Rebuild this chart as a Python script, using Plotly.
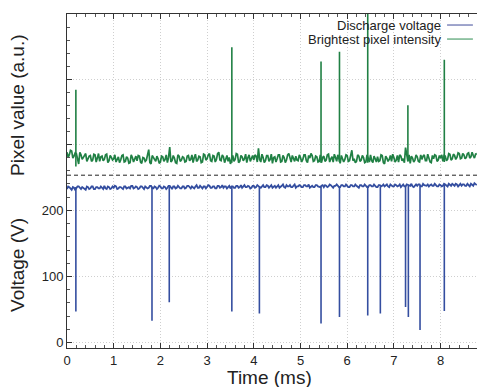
import plotly.graph_objects as go

# ---------------- data ----------------
t_step = 0.05  # ms between samples in each baseline list; the *_b lists sit half a step later
green_a = [
    0.88, 0.84, 0.90, 0.82, 0.86, 0.70, 0.84, 0.80, 0.86, 0.78,
    0.83, 0.76, 0.84, 0.79, 0.74, 0.82, 0.77, 0.85, 0.75, 0.80,
    0.78, 0.73, 0.81, 0.76, 0.84, 0.74, 0.79, 0.72, 0.80, 0.77,
    0.75, 0.82, 0.71, 0.79, 0.76, 0.92, 0.70, 0.80, 0.74, 0.78,
    0.73, 0.81, 0.77, 0.72, 0.96, 0.75, 0.79, 0.71, 0.82, 0.76,
    0.80, 0.74, 0.83, 0.77, 0.72, 0.85, 0.76, 0.81, 0.73, 0.84,
    0.78, 0.86, 0.74, 0.82, 0.77, 0.88, 0.75, 0.81, 0.79, 0.74,
    0.70, 0.83, 0.77, 0.85, 0.74, 0.81, 0.78, 0.72, 0.84, 0.79,
    0.76, 0.82, 0.94, 0.73, 0.80, 0.75, 0.83, 0.77, 0.71, 0.81,
    0.78, 0.84, 0.74, 0.80, 0.76, 0.86, 0.73, 0.79, 0.82, 0.75,
    0.80, 0.77, 0.84, 0.72, 0.79, 0.83, 0.75, 0.81, 0.74, 0.72,
    0.82, 0.76, 0.85, 0.78, 0.73, 0.80, 0.84, 0.71, 0.79, 0.77,
    0.83, 0.75, 0.91, 0.78, 0.74, 0.82, 0.76, 0.80, 0.73, 0.79,
    0.84, 0.72, 0.78, 0.81, 0.75, 0.83, 0.70, 0.79, 0.77, 0.74,
    0.80, 0.76, 0.73, 0.82, 0.78, 0.95, 0.74, 0.71, 0.79, 0.76,
    0.81, 0.73, 0.77, 0.84, 0.75, 0.80, 0.72, 0.78, 0.83, 0.76,
    0.79, 0.74, 0.82, 0.77, 0.85, 0.78, 0.83, 0.80, 0.86, 0.79,
    0.84, 0.80, 0.87, 0.81, 0.83, 0.85,
]
green_b = [
    0.80, 0.91, 0.79, 0.87, 0.75, 0.88, 0.77, 0.83, 0.74, 0.82,
    0.74, 0.85, 0.73, 0.86, 0.81, 0.75, 0.84, 0.72, 0.83, 0.76,
    0.84, 0.79, 0.72, 0.83, 0.73, 0.81, 0.71, 0.84, 0.73, 0.82,
    0.83, 0.73, 0.80, 0.74, 0.84, 0.72, 0.83, 0.75, 0.82, 0.71,
    0.82, 0.74, 0.84, 0.80, 0.73, 0.83, 0.72, 0.84, 0.74, 0.81,
    0.73, 0.82, 0.75, 0.84, 0.80, 0.74, 0.82, 0.72, 0.85, 0.76,
    0.84, 0.75, 0.83, 0.73, 0.86, 0.76, 0.84, 0.72, 0.83, 0.80,
    0.79, 0.74, 0.86, 0.72, 0.83, 0.75, 0.85, 0.80, 0.74, 0.83,
    0.84, 0.73, 0.77, 0.85, 0.72, 0.83, 0.74, 0.85, 0.80, 0.73,
    0.84, 0.73, 0.83, 0.72, 0.84, 0.77, 0.83, 0.74, 0.76, 0.84,
    0.73, 0.84, 0.75, 0.83, 0.86, 0.74, 0.82, 0.73, 0.84, 0.80,
    0.74, 0.84, 0.73, 0.81, 0.85, 0.74, 0.76, 0.83, 0.73, 0.84,
    0.74, 0.84, 0.75, 0.72, 0.84, 0.74, 0.83, 0.72, 0.84, 0.73,
    0.75, 0.82, 0.73, 0.74, 0.84, 0.72, 0.82, 0.74, 0.83, 0.85,
    0.73, 0.83, 0.84, 0.75, 0.72, 0.80, 0.84, 0.82, 0.73, 0.84,
    0.74, 0.84, 0.82, 0.75, 0.85, 0.73, 0.83, 0.84, 0.74, 0.83,
    0.84, 0.83, 0.75, 0.86, 0.76, 0.85, 0.77, 0.87, 0.78, 0.86,
    0.78, 0.86, 0.79, 0.88, 0.79, 0.86,
]
voltage_a = [
    232, 235, 231, 234, 233, 236, 232, 234, 231, 235,
    233, 236, 232, 235, 233, 234, 237, 232, 235, 233,
    234, 236, 233, 235, 232, 236, 234, 233, 237, 234,
    235, 233, 236, 232, 235, 234, 237, 233, 235, 234,
    236, 233, 235, 234, 237, 232, 236, 234, 235, 233,
    236, 234, 237, 233, 235, 236, 234, 237, 233, 236,
    235, 237, 234, 236, 233, 237, 235, 234, 236, 235,
    233, 236, 234, 237, 235, 234, 238, 235, 236, 234,
    237, 235, 236, 234, 238, 235, 237, 236, 234, 237,
    236, 234, 237, 235, 238, 236, 235, 237, 234, 236,
    237, 235, 238, 236, 234, 237, 235, 238, 236, 237,
    235, 237, 236, 238, 234, 237, 236, 235, 238, 236,
    237, 235, 238, 236, 237, 234, 238, 236, 237, 235,
    238, 236, 237, 235, 238, 237, 236, 239, 235, 237,
    236, 238, 237, 235, 239, 236, 238, 237, 236, 238,
    237, 239, 236, 238, 237, 236, 239, 237, 238, 236,
    238, 237, 239, 236, 238, 240, 237, 239, 238, 237,
    239, 237, 238, 240, 237, 239,
]
voltage_b = [
    236, 232, 235, 231, 236, 233, 235, 232, 236, 232,
    236, 232, 235, 233, 236, 232, 233, 236, 232, 236,
    237, 232, 235, 233, 236, 233, 235, 237, 233, 236,
    232, 236, 233, 236, 233, 237, 233, 236, 232, 237,
    233, 236, 232, 237, 234, 236, 233, 237, 233, 236,
    233, 237, 234, 236, 233, 238, 234, 235, 236, 233,
    238, 234, 236, 233, 237, 234, 238, 236, 233, 237,
    236, 234, 237, 234, 238, 236, 235, 237, 233, 237,
    234, 238, 235, 237, 235, 238, 234, 238, 236, 234,
    238, 235, 239, 234, 236, 238, 235, 239, 236, 238,
    235, 238, 236, 239, 236, 235, 238, 236, 235, 238,
    238, 235, 239, 236, 237, 239, 235, 238, 236, 239,
    235, 238, 236, 239, 235, 238, 236, 239, 235, 238,
    236, 239, 235, 238, 236, 239, 238, 236, 239, 236,
    239, 236, 239, 237, 236, 239, 237, 240, 235, 239,
    239, 236, 240, 237, 239, 238, 237, 240, 236, 239,
    236, 240, 237, 240, 237, 238, 240, 236, 240, 239,
    237, 240, 236, 239, 241, 238,
]
green_spike_t = [0.19, 3.53, 5.44, 5.835, 6.44, 7.30, 8.08]
green_spike_top = [1.84, 2.49, 2.27, 2.42, 3.05, 1.60, 2.30]
green_spike_foot = [0.66, 0.72, 0.72, 0.73, 0.72, 0.74, 0.73]
volt_spike_t = [0.19, 1.82, 2.19, 3.53, 4.12, 5.44, 5.835, 6.44, 6.71, 7.25, 7.31, 7.56, 8.08]
volt_spike_bottom = [47, 33, 61, 47, 44, 29, 39, 41, 44, 54, 39, 19, 48]
volt_spike_foot = [235, 236, 236, 236, 236, 236, 236, 237, 236, 237, 237, 237, 238]

x_ticks = [0, 1, 2, 3, 4, 5, 6, 7, 8]
v_ticks = [0, 100, 200]

# ---------------- assemble series ----------------
def interleave(a, b, step):
    xs, ys = [], []
    for i, (va, vb) in enumerate(zip(a, b)):
        xs += [i * step, i * step + step / 2]
        ys += [va, vb]
    return xs, ys

def segments(ts, feet, tips):
    xs, ys = [], []
    for t, f, p in zip(ts, feet, tips):
        xs += [t, t, None]
        ys += [f, p, None]
    return xs, ys

gx, gy = interleave(green_a, green_b, t_step)
vx, vy = interleave(voltage_a, voltage_b, t_step)
gsx, gsy = segments(green_spike_t, green_spike_foot, green_spike_top)
vsx, vsy = segments(volt_spike_t, volt_spike_foot, volt_spike_bottom)

BLUE = "rgb(52,78,160)"
GREEN = "rgb(32,128,68)"
FONT = "Liberation Sans, Arial, sans-serif"
TXT = "#222222"
GRID = "rgba(175,175,175,0.6)"

fig = go.Figure()
fig.add_trace(go.Scatter(x=vx, y=vy, mode="lines", line=dict(color=BLUE, width=1.8),
                         name="Discharge voltage", xaxis="x", yaxis="y", showlegend=False))
fig.add_trace(go.Scatter(x=vsx, y=vsy, mode="lines", line=dict(color=BLUE, width=1.6),
                         xaxis="x", yaxis="y", showlegend=False, connectgaps=False))
fig.add_trace(go.Scatter(x=gx, y=gy, mode="lines", line=dict(color=GREEN, width=1.7),
                         name="Brightest pixel intensity", xaxis="x2", yaxis="y2", showlegend=False))
fig.add_trace(go.Scatter(x=gsx, y=gsy, mode="lines", line=dict(color=GREEN, width=1.6),
                         xaxis="x2", yaxis="y2", showlegend=False, connectgaps=False))

split = 0.5174
common_x = dict(range=[0, 8.78], tickvals=x_ticks, ticks="inside", ticklen=5, tickcolor="#333",
                showgrid=True, gridcolor=GRID, griddash="1px,2px", gridwidth=1, automargin=False,
                showline=True, linecolor="#333", linewidth=1, zeroline=False,
                minor=dict(dtick=0.2, tick0=0, ticks="inside", ticklen=3, tickcolor="#555", showgrid=False))
common_y = dict(ticks="inside", ticklen=5, tickcolor="#333", showgrid=True, gridcolor=GRID,
                griddash="1px,2px", showline=True, linecolor="#333", linewidth=1, zeroline=False,
                automargin=False)

fig.update_layout(
    width=477, height=387,
    margin=dict(l=67, r=0, t=14, b=39, autoexpand=False),
    paper_bgcolor="white", plot_bgcolor="white",
    font=dict(family=FONT, color=TXT, size=12),
    xaxis=dict(**common_x, anchor="y", domain=[0, 1], tickfont=dict(size=13, color=TXT)),
    xaxis2=dict(**common_x, anchor="y2", side="top", matches="x", showticklabels=False),
    yaxis=dict(**common_y, domain=[0, split], range=[-8, 253], tickvals=v_ticks,
               tickfont=dict(size=13, color=TXT),
               minor=dict(dtick=20, tick0=0, ticks="inside", ticklen=3, tickcolor="#555", showgrid=False)),
    yaxis2=dict(**common_y, domain=[split, 1], range=[0.528, 3.0], tickvals=[1, 2, 3],
                showticklabels=False,
                minor=dict(dtick=0.2, tick0=0, ticks="inside", ticklen=3, tickcolor="#555", showgrid=False)),
)

# axis titles
fig.add_annotation(xref="paper", yref="paper", x=0.495, y=-0.087, text="Time (ms)", showarrow=False,
                   xanchor="center", yanchor="middle", font=dict(size=19, color=TXT))
fig.add_annotation(xref="paper", yref="paper", x=-0.122, y=0.2485, text="Voltage (V)", showarrow=False,
                   textangle=-90, xanchor="center", yanchor="middle", font=dict(size=19, color=TXT))
fig.add_annotation(xref="paper", yref="paper", x=-0.122, y=0.7275, text="Pixel value (a.u.)",
                   showarrow=False, textangle=-90, xanchor="center", yanchor="middle",
                   font=dict(size=19, color=TXT))

# dashed separator between the two panels
fig.add_shape(type="line", xref="paper", yref="paper", x0=0, x1=1, y0=split, y1=split,
              line=dict(color="#222", width=1, dash="4px,3px"))

# legend drawn as text with line samples on the right
for name, col, yy in [("Discharge voltage", "rgb(95,105,170)", 0.967),
                      ("Brightest pixel intensity", "rgb(80,160,110)", 0.925)]:
    fig.add_annotation(xref="paper", yref="paper", x=0.917, y=yy, text=name, showarrow=False,
                       xanchor="right", yanchor="middle", font=dict(size=13, color=TXT))
    fig.add_shape(type="line", xref="paper", yref="paper", x0=0.927, x1=0.99, y0=yy, y1=yy,
                  line=dict(color=col, width=1.2))

# the page's default body margin would shift the 477x387 figure; remove it
fig.write_html("out.html", config={"displayModeBar": False},
               post_script="document.body.style.margin='0';document.body.style.overflow='hidden';")
